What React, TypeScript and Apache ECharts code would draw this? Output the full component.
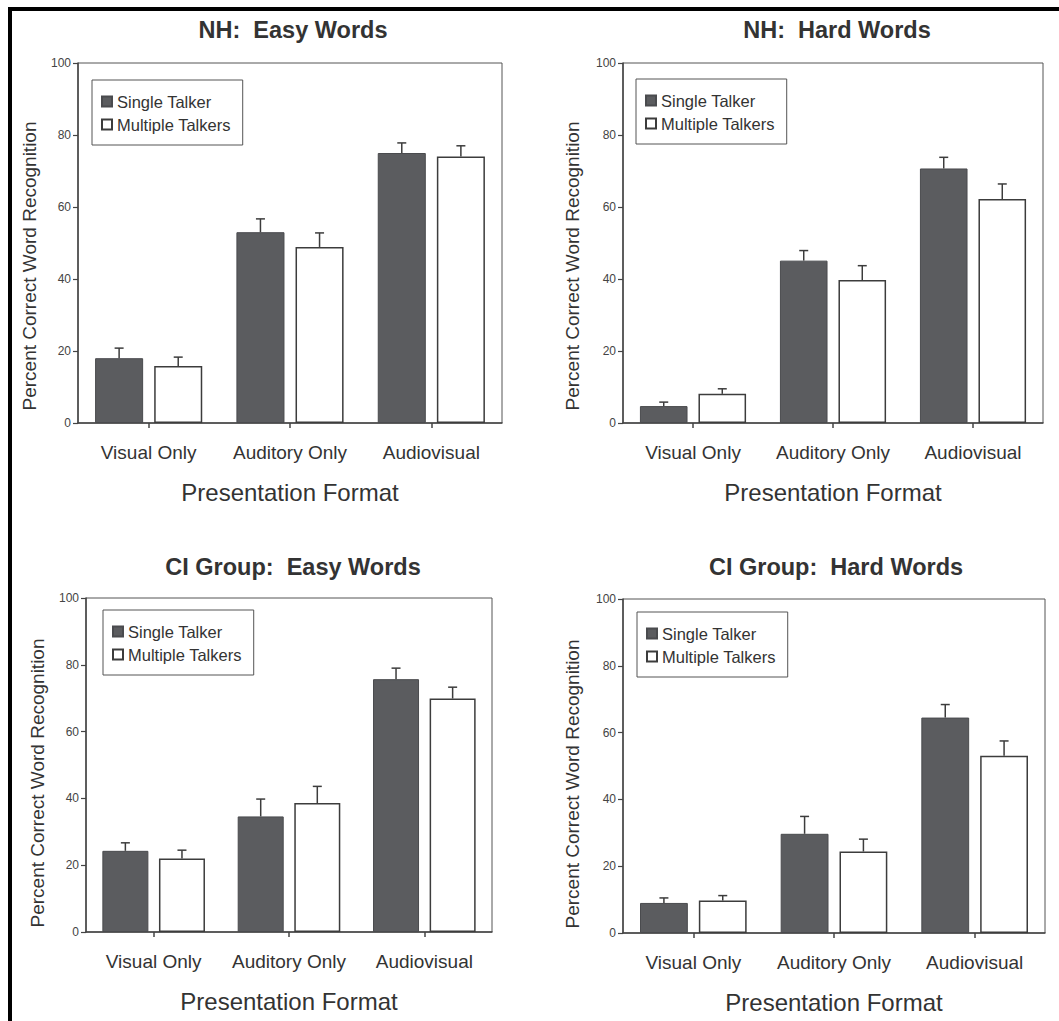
import { useEffect, useRef } from 'react';
import * as echarts from 'echarts';

// Word recognition scores (percent correct) by presentation format
const categories = ['Visual Only', 'Auditory Only', 'Audiovisual'];
const seriesNames = ['Single Talker', 'Multiple Talkers'];
const panelTitles = [
  'NH:  Easy Words',
  'NH:  Hard Words',
  'CI Group:  Easy Words',
  'CI Group:  Hard Words',
];
const yAxisTitle = 'Percent Correct Word Recognition';
const xAxisTitle = 'Presentation Format';

// Means and standard errors, one array per panel and talker condition
const nhEasySingle = [18.0, 53.0, 75.0];
const nhEasySingleErr = [2.8, 3.7, 2.8];
const nhEasyMulti = [15.8, 48.9, 74.0];
const nhEasyMultiErr = [2.5, 3.9, 3.0];

const nhHardSingle = [4.7, 45.1, 70.7];
const nhHardSingleErr = [1.1, 2.8, 3.1];
const nhHardMulti = [8.1, 39.7, 62.2];
const nhHardMultiErr = [1.4, 4.0, 4.2];

const ciEasySingle = [24.3, 34.6, 75.7];
const ciEasySingleErr = [2.4, 5.2, 3.3];
const ciEasyMulti = [22.0, 38.6, 69.9];
const ciEasyMultiErr = [2.5, 5.0, 3.4];

const ciHardSingle = [9.0, 29.7, 64.5];
const ciHardSingleErr = [1.5, 5.2, 3.9];
const ciHardMulti = [9.7, 24.4, 53.1];
const ciHardMultiErr = [1.5, 3.7, 4.4];

const panelData = [
  [nhEasySingle, nhEasySingleErr, nhEasyMulti, nhEasyMultiErr],
  [nhHardSingle, nhHardSingleErr, nhHardMulti, nhHardMultiErr],
  [ciEasySingle, ciEasySingleErr, ciEasyMulti, ciEasyMultiErr],
  [ciHardSingle, ciHardSingleErr, ciHardMulti, ciHardMultiErr],
];

// Panel placement
const grids = [
  { left: 78, top: 63, width: 424, height: 360 },
  { left: 623, top: 63, width: 420, height: 360 },
  { left: 86, top: 598, width: 406, height: 334 },
  { left: 623, top: 599, width: 422, height: 334 },
];
const titlePos = [
  [293, 30],
  [837, 30],
  [293, 567],
  [836, 567],
];
const legendPos = [
  [92, 80],
  [636, 79],
  [103, 610],
  [637, 612],
];

const FONT = '"Liberation Sans", Arial, Helvetica, sans-serif';
const DARK = '#5b5c5f';
const INK = '#3c3c3c';
const BAR_FRAC = 0.34;
const GAP_FRAC = 0.23;

function errorSeries(p: number, side: number, means: number[], errs: number[]) {
  return {
    type: 'custom',
    xAxisIndex: p,
    yAxisIndex: p,
    z: 5,
    silent: true,
    clip: false,
    data: means.map((m, i) => [i, m, m + errs[i]]),
    renderItem: (_params: any, api: any) => {
      const cat = api.value(0);
      const base = api.coord([cat, api.value(1)]);
      const tip = api.coord([cat, api.value(2)]);
      const band = api.size([1, 0])[0];
      const bw = band * BAR_FRAC;
      const gap = bw * GAP_FRAC;
      const x = base[0] + (side * (bw + gap)) / 2;
      const cap = 4.5;
      const style = { stroke: INK, lineWidth: 1.5 };
      return {
        type: 'group',
        children: [
          { type: 'line', shape: { x1: x, y1: base[1], x2: x, y2: tip[1] }, style },
          { type: 'line', shape: { x1: x - cap, y1: tip[1], x2: x + cap, y2: tip[1] }, style },
        ],
      };
    },
  };
}

export default function App() {
  const ref = useRef<HTMLDivElement>(null);

  useEffect(() => {
    if (!ref.current) return;
    const chart = echarts.init(ref.current, undefined, { renderer: 'svg' });

    const series: any[] = [];
    panelData.forEach((d, p) => {
      const [sMean, sErr, mMean, mErr] = d;
      series.push({
        type: 'bar',
        name: seriesNames[0],
        xAxisIndex: p,
        yAxisIndex: p,
        data: sMean,
        barWidth: `${BAR_FRAC * 100}%`,
        barGap: `${GAP_FRAC * 100}%`,
        itemStyle: { color: DARK, borderColor: '#4a4b4e', borderWidth: 1 },
      });
      series.push({
        type: 'bar',
        name: seriesNames[1],
        xAxisIndex: p,
        yAxisIndex: p,
        data: mMean,
        barWidth: `${BAR_FRAC * 100}%`,
        barGap: `${GAP_FRAC * 100}%`,
        itemStyle: { color: '#ffffff', borderColor: INK, borderWidth: 1.5 },
      });
      series.push(errorSeries(p, -1, sMean, sErr));
      series.push(errorSeries(p, 1, mMean, mErr));
    });

    const option: any = {
      animation: false,
      backgroundColor: '#ffffff',
      textStyle: { fontFamily: FONT },
      grid: grids.map((g) => ({
        ...g,
        show: true,
        borderColor: '#555',
        borderWidth: 1,
        backgroundColor: 'transparent',
      })),
      xAxis: grids.map((_, p) => ({
        type: 'category',
        gridIndex: p,
        data: categories,
        axisLine: { lineStyle: { color: '#444', width: 1.5 } },
        axisTick: {
          show: true,
          interval: 0,
          alignWithLabel: true,
          length: 5,
          lineStyle: { color: '#444', width: 1.5 },
        },
        axisLabel: {
          interval: 0,
          hideOverlap: false,
          color: '#333',
          fontSize: 19,
          margin: 20,
          fontFamily: FONT,
        },
        name: xAxisTitle,
        nameLocation: 'middle',
        nameGap: 57,
        nameTextStyle: { color: '#333', fontSize: 24, fontFamily: FONT },
        splitLine: { show: false },
      })),
      yAxis: grids.map((_, p) => ({
        type: 'value',
        gridIndex: p,
        min: 0,
        max: 100,
        interval: 20,
        axisLine: { show: true, lineStyle: { color: '#444', width: 1.5 } },
        axisTick: { show: true, length: 5, lineStyle: { color: '#444', width: 1.2 } },
        axisLabel: { color: '#444', fontSize: 12, margin: 7, fontFamily: FONT },
        splitLine: { show: false },
        name: yAxisTitle,
        nameLocation: 'middle',
        nameGap: p % 2 === 0 ? 39 : 41,
        nameTextStyle: {
          color: '#333',
          fontSize: 19,
          fontFamily: FONT,
          padding: [0, p < 2 ? 46 : 36, 0, 0],
        },
      })),
      legend: legendPos.map(([l, t]) => ({
        left: l,
        top: t,
        orient: 'vertical',
        data: seriesNames,
        selectedMode: false,
        icon: 'rect',
        itemWidth: 10,
        itemHeight: 10,
        itemGap: 6,
        padding: [13, 12, 12, 9],
        borderColor: '#555',
        borderWidth: 1,
        textStyle: { color: '#333', fontSize: 16.5, lineHeight: 16, fontFamily: FONT },
      })),
      graphic: [
        ...titlePos.map(([x, y], i) => ({
          type: 'text',
          x,
          y,
          style: {
            text: panelTitles[i],
            fill: '#333',
            font: `bold 23.5px ${FONT}`,
            align: 'center',
            verticalAlign: 'middle',
          },
        })),
        // page frame: top and left rules
        {
          type: 'line',
          shape: { x1: 8, y1: 9, x2: 1059, y2: 9 },
          style: { stroke: '#000', lineWidth: 4 },
        },
        {
          type: 'line',
          shape: { x1: 10, y1: 7, x2: 10, y2: 1021 },
          style: { stroke: '#000', lineWidth: 4 },
        },
      ],
      series,
    };

    chart.setOption(option);
    return () => chart.dispose();
  }, []);

  return (
    <div
      ref={ref}
      style={{ position: 'absolute', left: 0, top: 0, width: 1059, height: 1021 }}
    />
  );
}
